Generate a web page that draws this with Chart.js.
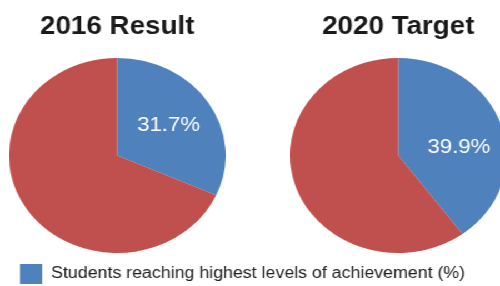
<!DOCTYPE html>
<html><head><meta charset="utf-8">
<script src="https://cdn.jsdelivr.net/npm/chart.js@4/dist/chart.umd.min.js"></script>
<style>
html,body{margin:0;padding:0;background:#fff;overflow:hidden;width:500px;height:286px;}
#stage{position:absolute;left:0;top:0;width:450px;height:286px;transform:scaleX(1.111);transform-origin:0 0;overflow:hidden;}
.box{position:absolute;}
canvas{display:block;}
</style></head><body>
<div id="stage">
  <div class="box" style="left:8px;top:0px;"><canvas id="c1" width="195" height="253"></canvas></div>
  <div class="box" style="left:261px;top:0px;width:189px;overflow:hidden;"><canvas id="c2" width="195" height="253"></canvas></div>
  <div class="box" style="left:0px;top:0px;"><canvas id="c3" width="450" height="286"></canvas></div>
</div>
<script>
const titles = ['2016 Result', '2020 Target'];
const categories = ['Students reaching highest levels of achievement (%)', 'Other students'];
const result2016 = [31.7, 68.3];
const target2020 = [39.9, 60.1];
const sliceColors = ['#4F81BD', '#C0504D'];
const labelAngleFrac = [0.5, 0.57];

const FONT = '"Liberation Sans", Arial, sans-serif';

const sliceLabel = {
  id: 'sliceLabel',
  afterDatasetsDraw(chart, args, opts) {
    const meta = chart.getDatasetMeta(0);
    const arc = meta.data[0];
    const v = chart.data.datasets[0].data[0];
    const a = arc.startAngle + (arc.endAngle - arc.startAngle) * opts.frac;
    const r = arc.outerRadius * 0.565;
    const ctx = chart.ctx;
    ctx.save();
    ctx.fillStyle = '#ffffff';
    ctx.font = '20px ' + FONT;
    ctx.textAlign = 'center';
    ctx.textBaseline = 'middle';
    ctx.fillText(v.toFixed(1) + '%', arc.x + Math.cos(a) * r, arc.y + Math.sin(a) * r);
    ctx.restore();
  }
};

function makePie(id, title, values, frac) {
  return new Chart(document.getElementById(id), {
    type: 'pie',
    data: {
      labels: categories,
      datasets: [{ data: values, backgroundColor: sliceColors, borderWidth: 0 }]
    },
    options: {
      responsive: false,
      maintainAspectRatio: false,
      animation: false,
      layout: { padding: 0 },
      plugins: {
        legend: { display: false },
        tooltip: { enabled: false },
        title: {
          display: true,
          text: title,
          color: '#1a1a1a',
          font: { family: FONT, size: 25, weight: 'bold', lineHeight: 1.2 },
          padding: { top: 12, bottom: 16 }
        },
        sliceLabel: { frac: frac }
      }
    },
    plugins: [sliceLabel]
  });
}

makePie('c1', titles[0], result2016, labelAngleFrac[0]);
makePie('c2', titles[1], target2020, labelAngleFrac[1]);

new Chart(document.getElementById('c3'), {
  type: 'pie',
  data: {
    labels: [categories[0]],
    datasets: [{ data: [result2016[0]], backgroundColor: [sliceColors[0]], borderWidth: 0 }]
  },
  options: {
    responsive: false,
    maintainAspectRatio: false,
    animation: false,
    radius: 0,
    layout: { padding: { left: 8, top: 254 } },
    plugins: {
      tooltip: { enabled: false },
      legend: {
        display: true,
        position: 'top',
        align: 'start',
        maxHeight: 60,
        labels: {
          boxWidth: 20,
          boxHeight: 20,
          padding: 10,
          color: '#222222',
          font: { family: FONT, size: 16 }
        }
      }
    }
  }
});
</script>
</body></html>
